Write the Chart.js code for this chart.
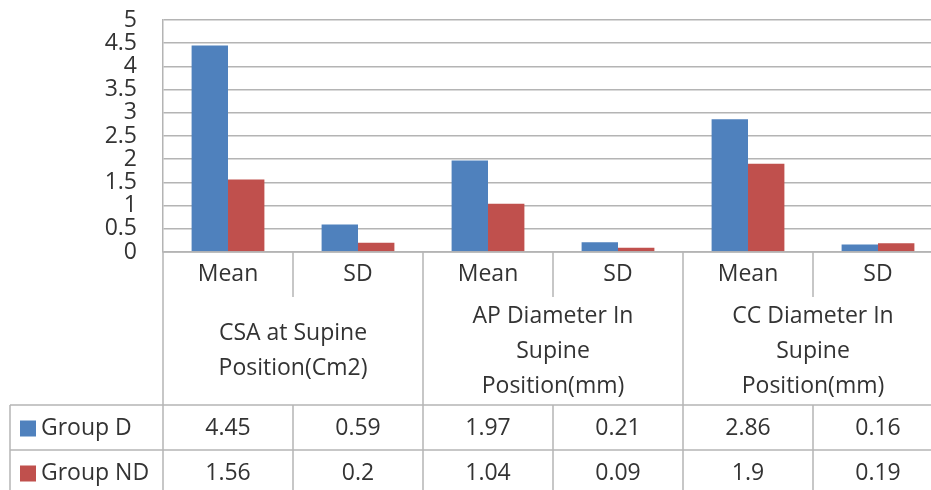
<!DOCTYPE html>
<html>
<head>
<meta charset="utf-8">
<script src="https://cdn.jsdelivr.net/npm/chart.js@4/dist/chart.umd.min.js"></script>
<style>
  html, body { margin: 0; padding: 0; background: #fff; overflow: hidden; }
  #wrap { width: 945px; height: 490px; }
</style>
</head>
<body>
<div id="wrap"><canvas id="chart" width="945" height="490"></canvas></div>
<script>
// data
const categories = ["Mean", "SD", "Mean", "SD", "Mean", "SD"];
const groups = [
  ["CSA at Supine", "Position(Cm2)"],
  ["AP Diameter In", "Supine", "Position(mm)"],
  ["CC Diameter In", "Supine", "Position(mm)"]
];
const seriesNames = ["Group D", "Group ND"];
const groupD = [4.45, 0.59, 1.97, 0.21, 2.86, 0.16];
const groupND = [1.56, 0.2, 1.04, 0.09, 1.9, 0.19];
const yMax = 5;
const yStep = 0.5;

const colors = ["#4F81BD", "#C0504D"];
const lineColor = "#b4b4b4";
const textColor = "#333";
const font = "23px 'Open Sans'";

// draws the category labels, group labels and the data table under the plot
const tablePlugin = {
  id: "dataTable",
  afterDraw(chart) {
    const ctx = chart.ctx;
    const x = chart.scales.x;
    const area = chart.chartArea;
    const n = categories.length;
    const half = (x.getPixelForValue(1) - x.getPixelForValue(0)) / 2;
    const left = area.left;
    const right = area.right;
    const y0 = area.bottom;
    const labelBottom = y0 + 45;
    const tableTop = y0 + 153;
    const rowH = 45;
    const tableLeft = 10;

    ctx.save();
    ctx.strokeStyle = lineColor;
    ctx.lineWidth = 1.5;
    const line = (x1, y1, x2, y2) => {
      ctx.beginPath();
      ctx.moveTo(x1, y1);
      ctx.lineTo(x2, y2);
      ctx.stroke();
    };

    // horizontal rules
    line(left, y0, right, y0);
    line(tableLeft, tableTop, right, tableTop);
    line(tableLeft, tableTop + rowH, right, tableTop + rowH);
    line(tableLeft, tableTop + 2 * rowH, right, tableTop + 2 * rowH);
    line(tableLeft, tableTop, tableLeft, chart.height);

    // vertical rules
    for (let i = 0; i <= n; i++) {
      const px = i < n ? x.getPixelForValue(i) - half : right;
      if (i % 2 === 0) {
        line(px, y0, px, chart.height);
      } else {
        line(px, y0, px, labelBottom);
        line(px, tableTop, px, chart.height);
      }
    }

    ctx.fillStyle = textColor;
    ctx.font = font;
    ctx.textAlign = "center";
    ctx.textBaseline = "middle";

    // sub-category labels
    categories.forEach((c, i) => {
      ctx.fillText(c, x.getPixelForValue(i), y0 + 22);
    });

    // group labels
    const midY = (labelBottom + tableTop) / 2;
    groups.forEach((g, j) => {
      const cx = (x.getPixelForValue(2 * j) + x.getPixelForValue(2 * j + 1)) / 2;
      const lh = 35;
      g.forEach((t, k) => {
        ctx.fillText(t, cx, midY + (k - (g.length - 1) / 2) * lh);
      });
    });

    // table rows
    [groupD, groupND].forEach((vals, r) => {
      const cy = tableTop + rowH * r + rowH / 2 + 1;
      vals.forEach((v, i) => {
        ctx.fillText(String(v), x.getPixelForValue(i), cy);
      });
      ctx.fillStyle = colors[r];
      ctx.fillRect(20, cy - 8, 16, 16);
      ctx.fillStyle = textColor;
      ctx.textAlign = "left";
      ctx.fillText(seriesNames[r], 41, cy);
      ctx.textAlign = "center";
    });
    ctx.restore();
  }
};

new Chart(document.getElementById("chart"), {
  type: "bar",
  data: {
    labels: categories,
    datasets: [
      { label: seriesNames[0], data: groupD, backgroundColor: colors[0] },
      { label: seriesNames[1], data: groupND, backgroundColor: colors[1] }
    ]
  },
  options: {
    responsive: false,
    animation: false,
    layout: { padding: { top: 20, bottom: 238, right: 2, left: 0 } },
    plugins: { legend: { display: false }, tooltip: { enabled: false } },
    datasets: { bar: { categoryPercentage: 0.56, barPercentage: 1 } },
    scales: {
      x: { display: false },
      y: {
        min: 0,
        max: yMax,
        afterFit: (s) => {
          s.width = 163;
          s.paddingTop = 0;
          s.paddingBottom = 0;
        },
        ticks: {
          stepSize: yStep,
          autoSkip: false,
          padding: 26,
          color: textColor,
          font: { family: "'Open Sans'", size: 23 },
          callback: (v) => String(v)
        },
        grid: { color: lineColor, lineWidth: 1.5, drawTicks: false },
        border: { color: lineColor, width: 1.5 }
      }
    }
  },
  plugins: [tablePlugin]
});
</script>
</body>
</html>
